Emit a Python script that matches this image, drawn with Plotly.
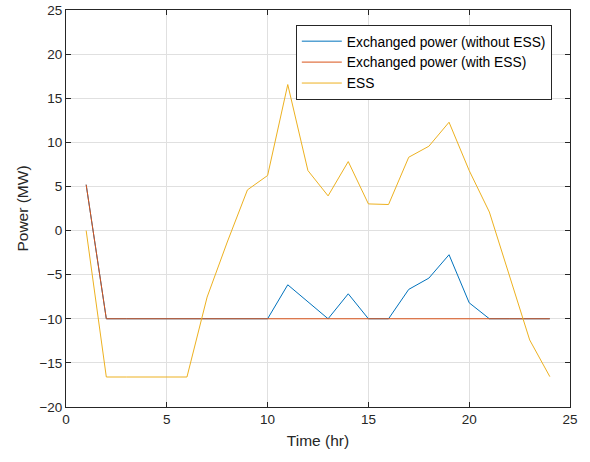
import plotly.graph_objects as go

hours = list(range(1, 25))
without_ess = [5.2, -10, -10, -10, -10, -10, -10, -10, -10, -10, -6.15, -8.1, -10, -7.17,
               -10, -10, -6.67, -5.39, -2.74, -8.19, -10, -10, -10, -10]
with_ess = [5.2] + [-10] * 23
ess = [0, -16.6, -16.6, -16.6, -16.6, -16.6, -7.54, -1.3, 4.61, 6.24, 16.55, 6.8, 3.93, 7.82,
       3.02, 2.95, 8.31, 9.56, 12.28, 6.8, 2.1, -5.1, -12.4, -16.56]

names = ["Exchanged power (without ESS)", "Exchanged power (with ESS)", "ESS"]
colors = ["#0072BD", "#D95319", "#EDB120"]

fig = go.Figure()
for name, ys, c in zip(names, [without_ess, with_ess, ess], colors):
    fig.add_trace(go.Scatter(x=hours, y=ys, mode="lines", name=name,
                             line=dict(color=c, width=1)))

axis_common = dict(
    showgrid=True, gridcolor="#E0E0E0", gridwidth=1,
    showline=True, linecolor="#262626", linewidth=1, mirror="ticks",
    ticks="inside", ticklen=5, tickcolor="#262626",
    zeroline=False, automargin=False, ticklabeloverflow="allow",
    tickfont=dict(family="Liberation Sans, Arial, sans-serif", size=13.5, color="#262626"),
)

fig.update_layout(
    width=590, height=462,
    margin=dict(l=66, r=20, t=10, b=55),
    paper_bgcolor="white", plot_bgcolor="white",
    font=dict(family="Liberation Sans, Arial, sans-serif", color="#262626"),
    xaxis=dict(range=[0, 25], dtick=5, title=dict(text="Time (hr)", font=dict(size=15.5), standoff=8),
               **axis_common),
    yaxis=dict(range=[-20, 25], dtick=5, title=dict(text="Power (MW)", font=dict(size=15.5), standoff=6),
               **axis_common),
    legend=dict(x=0.456, y=0.963, xanchor="left", yanchor="top",
                bordercolor="#262626", borderwidth=1, bgcolor="white",
                font=dict(size=13.8, color="black"), tracegroupgap=0,
                itemwidth=40),
    showlegend=True,
)

fig.write_html("out.html", config={"displayModeBar": False},
               post_script="document.body.style.margin='0';")
